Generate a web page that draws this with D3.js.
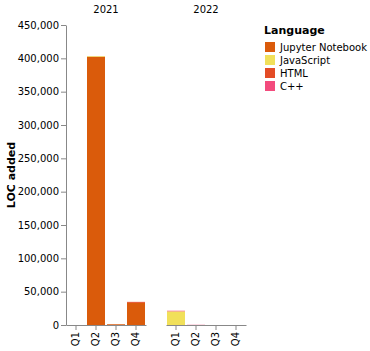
<!DOCTYPE html>
<html><head><meta charset="utf-8">
<script src="https://cdn.jsdelivr.net/npm/d3@7"></script>
<style>body{margin:0;background:#fff}svg{font-family:"DejaVu Sans",sans-serif}</style>
</head><body><div id="chart"></div>
<script>
const years = ["2021", "2022"];
const quarters = ["Q1", "Q2", "Q3", "Q4"];
const languages = ["Jupyter Notebook", "JavaScript", "HTML", "C++"];
const colors = ["#DA5B0B", "#f1e05a", "#e34c26", "#f34b7d"];
// values per year, per quarter, per language (Jupyter, JavaScript, HTML, C++)
const values2021 = [[0,0,0,0],[402500,900,0,0],[1100,0,0,0],[33200,0,1500,0]];
const values2022 = [[0,20500,0,900],[0,0,0,300],[0,0,0,0],[0,0,0,0]];
const yTicks = [0,50000,100000,150000,200000,250000,300000,350000,400000,450000];

(function(){
const W=370,H=351;
const svg=d3.select("#chart").append("svg").attr("width",W).attr("height",H);
const plotTop=25, plotBottom=325, left=66, facetW=80, gap=20;
const y=d3.scaleLinear().domain([0,450000]).range([plotBottom,plotTop]);
const color=d3.scaleOrdinal().domain(languages).range(colors);
const fmt=d3.format(",");

const ya=svg.append("g").attr("transform",`translate(${left},0)`)
  .call(d3.axisLeft(y).tickValues(yTicks).tickFormat(fmt).tickSizeOuter(0).tickSizeInner(5).tickPadding(2));
ya.selectAll("path,line").attr("stroke","#888");
ya.selectAll("text").attr("font-size",10).attr("fill","#000").attr("font-family","DejaVu Sans");
svg.append("text").attr("transform",`translate(14.5,${(plotTop+plotBottom)/2}) rotate(-90)`)
  .attr("text-anchor","middle").attr("font-size",11).attr("font-weight","bold").text("LOC added");

const data=[values2021,values2022];
years.forEach((yr,i)=>{
  const x0=left+i*(facetW+gap);
  const g=svg.append("g").attr("transform",`translate(${x0},0)`);
  const x=d3.scaleBand().domain(quarters).range([0,facetW]).paddingInner(0.1).paddingOuter(0.05);
  const rows=quarters.map((q,qi)=>{const o={q};languages.forEach((l,li)=>o[l]=data[i][qi][li]);return o;});
  const series=d3.stack().keys(languages)(rows);
  series.forEach(s=>{
    g.selectAll(null).data(s).enter().append("rect")
      .attr("x",d=>x(d.data.q)).attr("width",x.bandwidth())
      .attr("y",d=>y(d[1])).attr("height",d=>Math.max(0,y(d[0])-y(d[1])))
      .attr("fill",color(s.key));
  });
  const xa=g.append("g").attr("transform",`translate(0,${plotBottom})`)
    .call(d3.axisBottom(x).tickSizeOuter(0).tickSizeInner(5));
  xa.selectAll("path,line").attr("stroke","#888");
  xa.selectAll("text").attr("font-size",10).attr("fill","#000").attr("font-family","DejaVu Sans")
    .attr("transform","rotate(-90)").attr("text-anchor","end").attr("dy","0.32em").attr("x",-7).attr("y",0);
  svg.append("text").attr("x",x0+facetW/2).attr("y",13).attr("text-anchor","middle")
    .attr("font-size",10).text(yr);
});

const lg=svg.append("g").attr("transform","translate(264,0)");
lg.append("text").attr("x",0).attr("y",34).attr("font-size",11).attr("font-weight","bold").text("Language");
languages.forEach((l,i)=>{
  lg.append("rect").attr("x",1).attr("y",42+i*13).attr("width",10).attr("height",10).attr("fill",color(l));
  lg.append("text").attr("x",16).attr("y",51+i*13).attr("font-size",10).text(l);
});
})();
</script></body></html>
